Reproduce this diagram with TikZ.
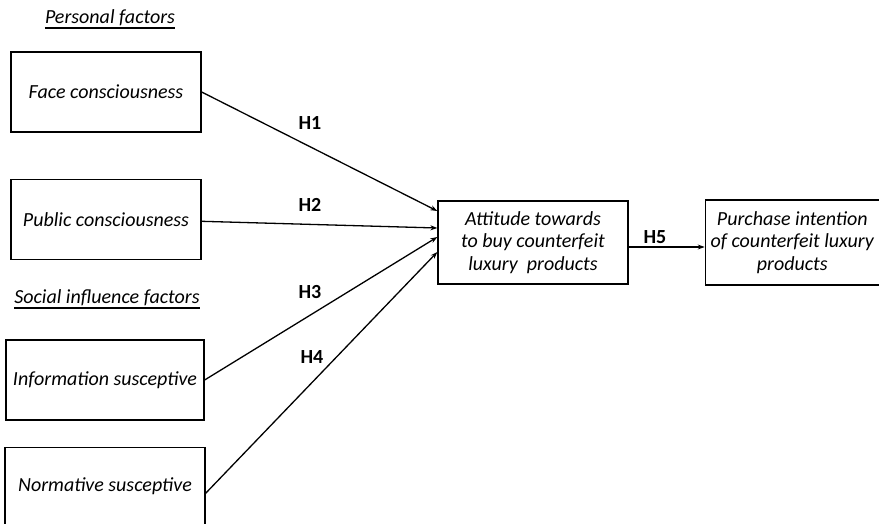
\documentclass[tikz,border=0pt]{standalone}
\usepackage{fontspec}
\setmainfont{Carlito}
\usetikzlibrary{positioning,arrows.meta}
\tikzset{
    factor/.style = {
        draw,
        line width=1.3pt,
        minimum width=190pt,
        minimum height=80pt,
        align=center,
        inner sep=2pt,
        font=\fontsize{20}{22.5}\selectfont\itshape,
        },
    heading/.style = {
        inner sep=0pt,
        font=\fontsize{20}{22}\selectfont\itshape,
        },
    hyp/.style = {
        font=\fontsize{20}{22}\selectfont\bfseries,
        },
    link/.style = {
        -{Stealth[length=7pt,width=5pt]},
        line width=1.3pt,
        },
}

\begin{document}
\begin{tikzpicture}[x=1pt,y=-1pt]
            \useasboundingbox (0,0) rectangle (879,524);
            \node[heading] (personal) at (110,18) {Personal factors};
            \node[factor] (face) at (106,92) {Face consciousness};
            \node[factor, below=46pt of face] (public) {Public consciousness};
            \node[heading] (social) at (107,298) {Social influence factors};
            \node[factor, minimum width=198pt] (info) at (105,380) {Information susceptive};
            \node[factor, minimum width=200pt, minimum height=77pt, below=26pt of info] (norm) {Normative susceptive};
            \node[factor, minimum height=83pt] (att) at (533,242.5) {Attitude towards\\to buy counterfeit\\luxury\ \ products};
            \node[factor, minimum width=174pt, minimum height=85pt, right=76pt of att] (purch) {Purchase intention\\of counterfeit luxury\\products};

            % underlined headings
            \draw[line width=2pt] ([yshift=-1.5pt]personal.south west) -- ([yshift=-1.5pt]personal.south east);
            \draw[line width=2pt] ([yshift=-1.5pt]social.south west) -- ([yshift=-1.5pt]social.south east);

            \draw[link] (face.east) -- ([yshift=31.5pt]att.west);
            \draw[link] ([yshift=-2pt]public.east) -- ([yshift=14.5pt]att.west);
            \draw[link] (info.east) -- ([yshift=5.5pt]att.west);
            \draw[link] ([yshift=-7.5pt]norm.east) -- ([yshift=-9.5pt]att.west);
            \draw[link] ([yshift=-4.5pt]att.east) -- ([yshift=-4.5pt]purch.west);

            \node[hyp] (h1) at (310,123) {H1};
            \node[hyp] (h2) at (310,205) {H2};
            \node[hyp] (h3) at (310,292) {H3};
            \node[hyp] (h4) at (312,357) {H4};
            \node[hyp] (h5) at (655,237) {H5};
        \end{tikzpicture}
\end{document}
